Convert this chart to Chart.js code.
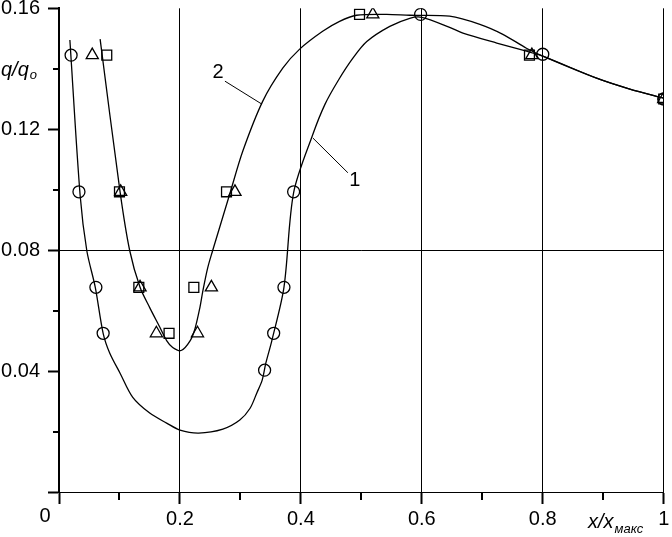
<!DOCTYPE html>
<html>
<head>
<meta charset="utf-8">
<script src="https://cdn.jsdelivr.net/npm/chart.js@4/dist/chart.umd.min.js"></script>
<style>
  html, body { margin:0; padding:0; background:#fff; }
  canvas { display:block; }
</style>
</head>
<body>
<canvas id="chart" width="672" height="537"></canvas>
<script>
// --- data ---
const xTicks = [0, 0.2, 0.4, 0.6, 0.8, 1];
const xMinorTicks = [0.1, 0.3, 0.5, 0.7, 0.9];
const yTicks = [0, 0.04, 0.08, 0.12, 0.16];
const yMinorTicks = [0.02, 0.06, 0.10, 0.14];

// curve 1 (smooth line)
const curve1X = [0.018, 0.035, 0.046, 0.060, 0.073, 0.084, 0.101, 0.122, 0.150, 0.178, 0.200, 0.231, 0.271, 0.299, 0.316, 0.327, 0.336, 0.342, 0.352, 0.372, 0.388, 0.420, 0.440, 0.462, 0.486, 0.509, 0.547, 0.580, 0.600, 0.646, 0.668, 0.724, 0.773, 0.800, 0.889, 0.944, 1.0];
const curve1Y = [0.1495, 0.098, 0.0798, 0.0677, 0.0525, 0.0459, 0.0393, 0.0313, 0.0261, 0.0228, 0.0205, 0.0195, 0.0208, 0.0238, 0.0277, 0.0327, 0.037, 0.0426, 0.0501, 0.0677, 0.099, 0.1184, 0.1283, 0.1362, 0.1435, 0.149, 0.154, 0.1567, 0.157, 0.1537, 0.1518, 0.1485, 0.1458, 0.1442, 0.1369, 0.1333, 0.1303];

// curve 2 (smooth line)
const curve2X = [0.068, 0.101, 0.117, 0.134, 0.150, 0.167, 0.178, 0.188, 0.202, 0.217, 0.225, 0.233, 0.238, 0.246, 0.254, 0.259, 0.283, 0.304, 0.337, 0.370, 0.398, 0.436, 0.464, 0.492, 0.542, 0.580, 0.646, 0.696, 0.734, 0.773, 0.800, 0.889, 0.944, 1.0];
const curve2Y = [0.1498, 0.0993, 0.0798, 0.0677, 0.061, 0.0544, 0.0501, 0.0478, 0.0468, 0.0501, 0.0541, 0.061, 0.0666, 0.0742, 0.0798, 0.0831, 0.099, 0.1128, 0.1293, 0.1402, 0.1465, 0.1524, 0.1557, 0.1577, 0.158, 0.1577, 0.1574, 0.1547, 0.1514, 0.1468, 0.1442, 0.1369, 0.1333, 0.1303];

// measured points
const circlesX = [0.020, 0.033, 0.061, 0.073, 0.340, 0.355, 0.372, 0.388, 0.598, 0.800, 1.0];
const circlesY = [0.1445, 0.0993, 0.0677, 0.0525, 0.0403, 0.0525, 0.0677, 0.0993, 0.158, 0.1448, 0.130];
const squaresX = [0.079, 0.100, 0.132, 0.182, 0.223, 0.277, 0.497, 0.778, 1.0];
const squaresY = [0.1445, 0.0993, 0.0677, 0.0525, 0.0677, 0.0993, 0.158, 0.1445, 0.130];
const trianglesX = [0.055, 0.102, 0.134, 0.161, 0.229, 0.252, 0.291, 0.519, 0.782, 1.0];
const trianglesY = [0.1445, 0.0993, 0.0677, 0.0525, 0.0525, 0.0677, 0.0993, 0.158, 0.1445, 0.130];

const FONT = '"Liberation Sans", Arial, Helvetica, sans-serif';
const pts = (xs, ys) => xs.map((x, i) => ({ x, y: ys[i] }));

const curve = (xs, ys) => ({
  data: pts(xs, ys), showLine: true, pointRadius: 0,
  borderColor: '#000', borderWidth: 1.3, fill: false,
  tension: 0.3
});
const marks = (xs, ys, style, r) => ({
  data: pts(xs, ys), showLine: false, pointStyle: style, pointRadius: r,
  borderColor: '#000', borderWidth: 1.3, backgroundColor: 'rgba(0,0,0,0)'
});

// text with a subscript right after it
function subText(ctx, main, sub, x, y, size, subSize, drop){
  ctx.font = 'italic ' + size + 'px ' + FONT;
  ctx.fillText(main, x, y);
  const w = ctx.measureText(main).width;
  ctx.font = 'italic ' + subSize + 'px ' + FONT;
  ctx.fillText(sub, x + w + 1, y + drop);
}

// minor ticks, axis names, curve numbers
const extras = {
  id: 'extras',
  afterDraw(chart){
    const ctx = chart.ctx, xs = chart.scales.x, ys = chart.scales.y;
    const left = xs.left, bottom = ys.bottom;
    ctx.save();
    ctx.strokeStyle = '#000'; ctx.fillStyle = '#000';
    ctx.lineWidth = 2;
    xMinorTicks.forEach(v => {
      const px = Math.round(xs.getPixelForValue(v));
      ctx.beginPath(); ctx.moveTo(px, bottom); ctx.lineTo(px, bottom + 8); ctx.stroke();
    });
    yMinorTicks.forEach(v => {
      const py = Math.round(ys.getPixelForValue(v));
      ctx.beginPath(); ctx.moveTo(left - 6, py); ctx.lineTo(left, py); ctx.stroke();
    });

    // origin label
    ctx.font = '20px ' + FONT;
    ctx.textAlign = 'center'; ctx.textBaseline = 'alphabetic';
    ctx.fillText('0', left - 14, bottom + 30);

    // axis names
    ctx.textAlign = 'left';
    subText(ctx, 'q/q', 'o', 1, 76, 20, 13, 3);
    subText(ctx, 'x/x', 'макс', 588, 528, 20, 13, 5);

    // curve numbers with leaders
    ctx.lineWidth = 1;
    const line = (x1, y1, x2, y2) => {
      ctx.beginPath();
      ctx.moveTo(xs.getPixelForValue(x1), ys.getPixelForValue(y1));
      ctx.lineTo(xs.getPixelForValue(x2), ys.getPixelForValue(y2));
      ctx.stroke();
    };
    line(0.2744, 0.1359, 0.3355, 0.1283);
    line(0.4198, 0.1171, 0.4777, 0.1056);
    ctx.font = '20px ' + FONT;
    ctx.textAlign = 'center';
    ctx.fillText('2', xs.getPixelForValue(0.263), ys.getPixelForValue(0.1369));
    ctx.fillText('1', xs.getPixelForValue(0.489), ys.getPixelForValue(0.1013));
    ctx.restore();
  }
};

new Chart(document.getElementById('chart'), {
  type: 'scatter',
  data: { datasets: [
    curve(curve1X, curve1Y),
    curve(curve2X, curve2Y),
    marks(circlesX, circlesY, 'circle', 6),
    marks(squaresX, squaresY, 'rect', 7),
    marks(trianglesX, trianglesY, 'triangle', 7)
  ]},
  options: {
    responsive: false,
    animation: false,
    layout: { padding: { left: 0, top: 7, right: 8, bottom: 0 } },
    plugins: { legend: { display: false }, tooltip: { enabled: false } },
    scales: {
      x: {
        type: 'linear', min: 0, max: 1,
        afterBuildTicks: s => { s.ticks = xTicks.map(v => ({ value: v })); },
        afterFit: s => { s.height = 45; s.paddingLeft = 0; s.paddingRight = 0; },
        ticks: {
          autoSkip: false, maxRotation: 0, padding: 3, color: '#000',
          font: { family: FONT, size: 20 },
          callback: v => v === 0 ? '' : (v === 1 ? '1' : v.toFixed(1))
        },
        grid: {
          color: c => (c.tick && c.tick.value > 0) ? '#000' : 'rgba(0,0,0,0)',
          lineWidth: 1, tickLength: 12, tickColor: '#000', tickWidth: 2
        },
        border: { display: true, color: '#000', width: 1 }
      },
      y: {
        type: 'linear', min: 0, max: 0.16,
        afterBuildTicks: s => { s.ticks = yTicks.map(v => ({ value: v })); },
        afterFit: s => { s.width = 59; s.paddingTop = 0; s.paddingBottom = 0; },
        ticks: {
          padding: 8, color: '#000',
          font: { family: FONT, size: 20 },
          callback: v => v === 0 ? '' : v.toFixed(2)
        },
        grid: {
          color: c => (c.tick && Math.abs(c.tick.value - 0.08) < 1e-9) ? '#000' : 'rgba(0,0,0,0)',
          lineWidth: 1, tickLength: 11, tickColor: '#000', tickWidth: 2
        },
        border: { display: true, color: '#000', width: 2 }
      }
    }
  },
  plugins: [extras]
});
</script>
</body>
</html>
